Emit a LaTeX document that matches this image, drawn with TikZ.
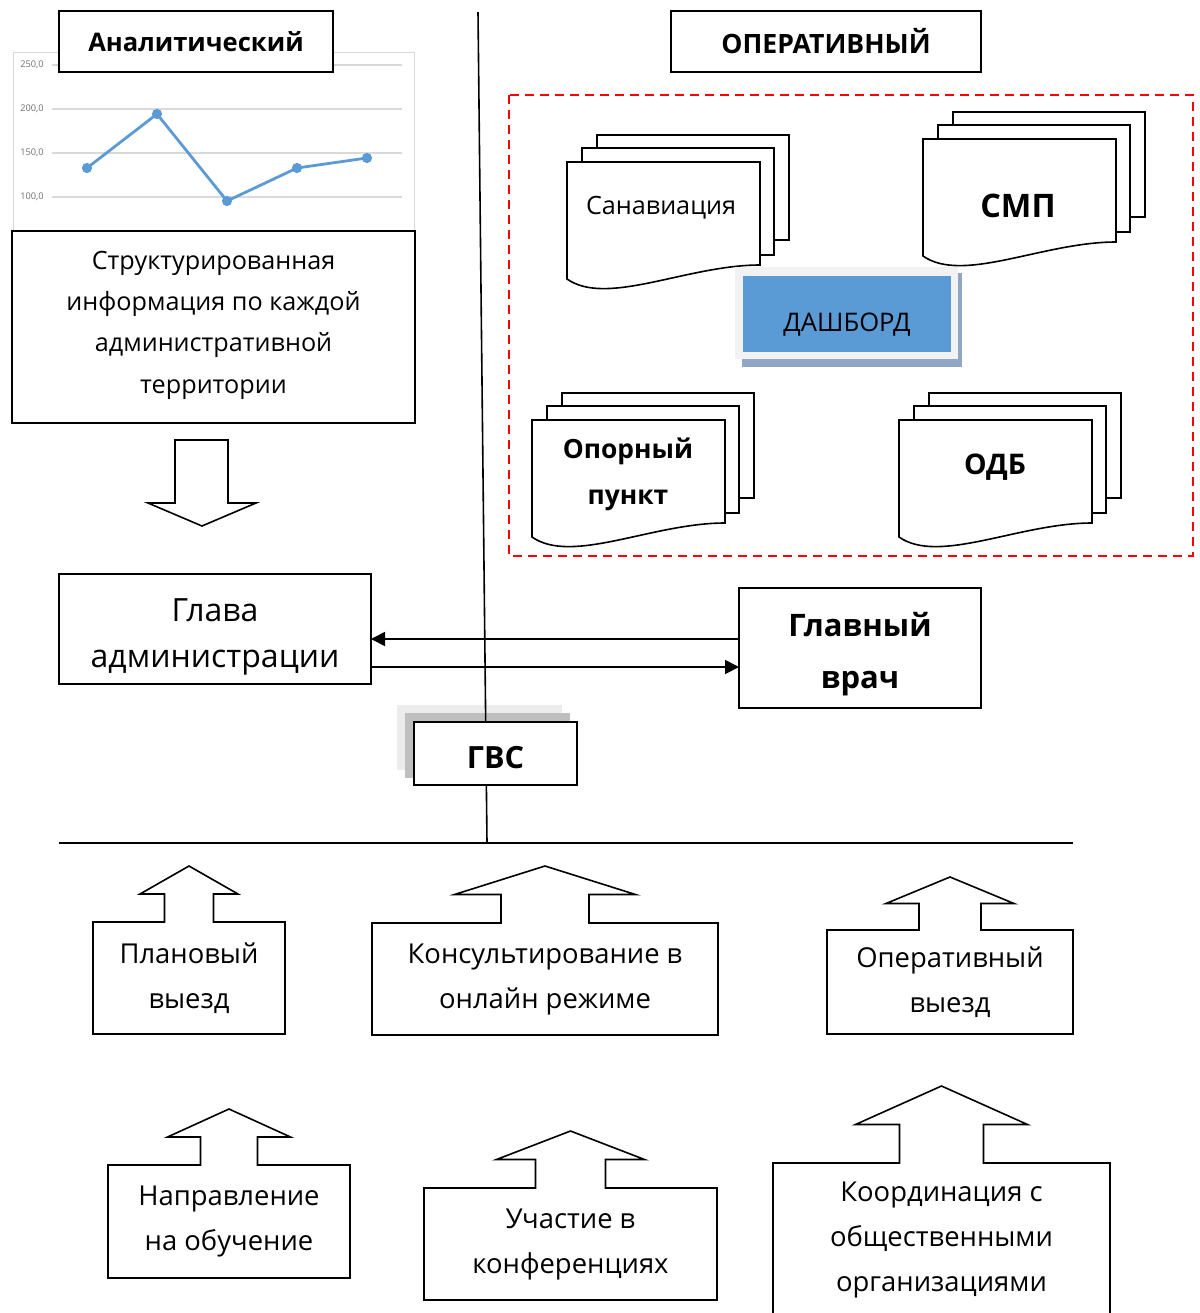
\documentclass[tikz,border=0pt]{standalone}
\usepackage{fontspec}
\setmainfont{Open Sans}
\usetikzlibrary{calc,arrows.meta}
\definecolor{chartblue}{RGB}{91,155,213}
\definecolor{gridgray}{RGB}{217,217,217}
\definecolor{labelgray}{RGB}{110,110,110}
\definecolor{dashshade}{RGB}{143,166,197}
\definecolor{dashframe}{RGB}{242,242,242}
\definecolor{gvsdark}{RGB}{191,191,191}
\definecolor{gvslight}{RGB}{236,236,236}

\tikzset{
  box/.style={draw, line width=0.8pt, fill=white, align=center, inner sep=0pt, outer sep=0pt},
  wh/.style 2 args={minimum width=(#1)*0.5pt, minimum height=(#2)*0.5pt},
  page/.style={draw, line width=0.8pt, fill=white},
  reg/.style={font=\fontsize{13.7}{22.5}\selectfont, align=center},
  hdr/.style={font=\bfseries\fontsize{13.3}{17}\selectfont},
  link/.style={line width=0.9pt, -{Triangle[length=7pt, width=7pt]}}
}

% stack of three pages, front page top-left at (#1,#2)
\newcommand{\docstack}[2]{%
  \draw[page] (#1+30,#2-27) rectangle ++(192,105);
  \draw[page] (#1+15,#2-14) rectangle ++(192,107);
  \draw[page] (#1,#2) -- (#1+193,#2) -- (#1+193,#2+103)
    .. controls (#1+120,#2+103) and (#1+40,#2+145) .. (#1,#2+117) -- cycle;
}

% box with an up arrow on top: name, x1, y1, x2, y2, shaft half width, head half width, head rise, text
\newcommand{\upcallout}[9]{%
  \node[wh={#4-#2}{#5-#3}, inner sep=0pt, outer sep=0pt, reg] (#1) at ({(#2+#4)/2},{(#3+#5)/2}) {#9};
  \draw[line width=0.8pt] (#1.south west) -- (#1.north west)
    -- ($(#1.north)+(-#6,0)$) -- ($(#1.north)+(-#6,-#8/2)$) -- ($(#1.north)+(-#7,-#8/2)$)
    -- ($(#1.north)+(0,-#8)$) -- ($(#1.north)+(#7,-#8/2)$) -- ($(#1.north)+(#6,-#8/2)$)
    -- ($(#1.north)+(#6,0)$) -- (#1.north east) -- (#1.south east) -- cycle;
}

\begin{document}
\begin{tikzpicture}[x=0.5pt, y=-0.5pt]
  \useasboundingbox (0,0) rectangle (1200,1313);

  % Chart
  \draw[gridgray, line width=0.4pt] (13,52) rectangle (414,230);
  \foreach \yy/\lab in {65/250, 109/200, 153/150, 197/100}{
    \draw[gridgray, line width=0.6pt] (52,\yy) -- (402,\yy);
    \node[labelgray, anchor=east, inner sep=0pt, font=\fontsize{4.6}{6}\selectfont] at (44,\yy) {\lab,0};
  }
  \draw[chartblue, line width=1.4pt, mark=*, mark size=1.8pt, mark options={fill=chartblue}]
    plot coordinates {(87,168) (157,114) (227,201) (297,168) (367,158)};

  % Headers
  \node[box, wh={274}{61}, hdr, font=\bfseries\fontsize{12.8}{17}\selectfont] (analit) at (196,41.5) {Аналитический};
  \node[box, wh={310}{61}, hdr] (operat) at (826,41.5) {ОПЕРАТИВНЫЙ};

  \node[box, wh={403}{192}, font=\fontsize{12.6}{20.7}\selectfont, text depth=5pt] (info) at (213.5,327)
    {Структурированная\\информация по каждой\\административной\\территории};

  % Down arrow
  \draw[line width=0.8pt] (175,440) -- (228,440) -- (228,503) -- (256,503)
    -- (202,526) -- (148,503) -- (175,503) -- cycle;

  % Operative block
  \draw[red, dashed, line width=0.8pt, dash pattern=on 4.5pt off 3pt] (509,95) rectangle (1193,556);
  \docstack{567}{162}
  \docstack{923}{139}
  \docstack{532}{420}
  \docstack{899}{420}
  \node[font=\fontsize{12.6}{15}\selectfont] (sanav) at (661,208) {Санавиация};
  \node[font=\bfseries\fontsize{16.2}{22}\selectfont] (smp) at (1018,206) {СМП};
  \node[font=\bfseries\fontsize{13.2}{23}\selectfont, align=center] (opora) at (628,474) {Опорный\\пункт};
  \node[font=\bfseries\fontsize{14.2}{17}\selectfont] (odb) at (995,467) {ОДБ};

  % Dashboard
  \fill[dashshade] (742,273) rectangle (962,367);
  \fill[dashframe] (735,267) rectangle (958,359);
  \node[fill=chartblue, wh={208}{76}, inner sep=0pt, font=\fontsize{12.8}{15}\selectfont,
    text height=17pt, text depth=0pt] (dash) at (847,314) {ДАШБОРД};

  % Heads of administration and hospital
  \node[box, wh={312}{110}, font=\fontsize{16}{23}\selectfont] (glava) at (215,629)
    {\rule{0pt}{19pt}Глава\\администрации};
  \node[box, wh={242}{120}, font=\bfseries\fontsize{15.5}{26}\selectfont] (vrach) at (860,648)
    {\rule{0pt}{18pt}Главный\\врач};
  \coordinate (la) at ($(vrach.west)+(0,-9)$);
  \coordinate (ra) at ($(glava.east)+(0,38)$);
  \draw[link] (la) -- (la -| glava.east);
  \draw[link] (ra) -- (ra -| vrach.west);

  % GVS with shadows and the dividing lines
  \fill[gvslight] (397,705) rectangle (562,770);
  \fill[gvsdark] (405,713) rectangle (570,778);
  \coordinate (vtop) at (478,12);
  \coordinate (vbot) at (487,843);
  \draw[line width=0.8pt] (vtop) -- (vbot);
  \draw[line width=0.8pt] (59,843) -- (1073,843);
  \node[box, wh={163}{63}, font=\bfseries\fontsize{15.3}{20}\selectfont,
    text height=15pt, text depth=0pt] (gvs) at (495.5,753.5) {ГВС};

  % Forms of work
  \upcallout{plan}{93}{922}{285}{1034}{24.5}{49}{56}{Плановый\\выезд}
  \upcallout{konsult}{372}{923}{718}{1035}{44}{90.5}{57}{Консультирование в\\онлайн режиме}
  \upcallout{opvyezd}{827}{930}{1073}{1034}{31}{64}{53}{Оперативный\\выезд}
  \upcallout{obuch}{108}{1165}{350}{1278}{28.5}{61.5}{56}{Направление\\на обучение}
  \upcallout{konf}{424}{1188}{717}{1300}{35}{74}{57}{Участие в\\конференциях}
  \upcallout{koord}{773}{1163}{1110}{1316}{42}{86}{77}{Координация с\\общественными\\организациями}
\end{tikzpicture}
\end{document}
